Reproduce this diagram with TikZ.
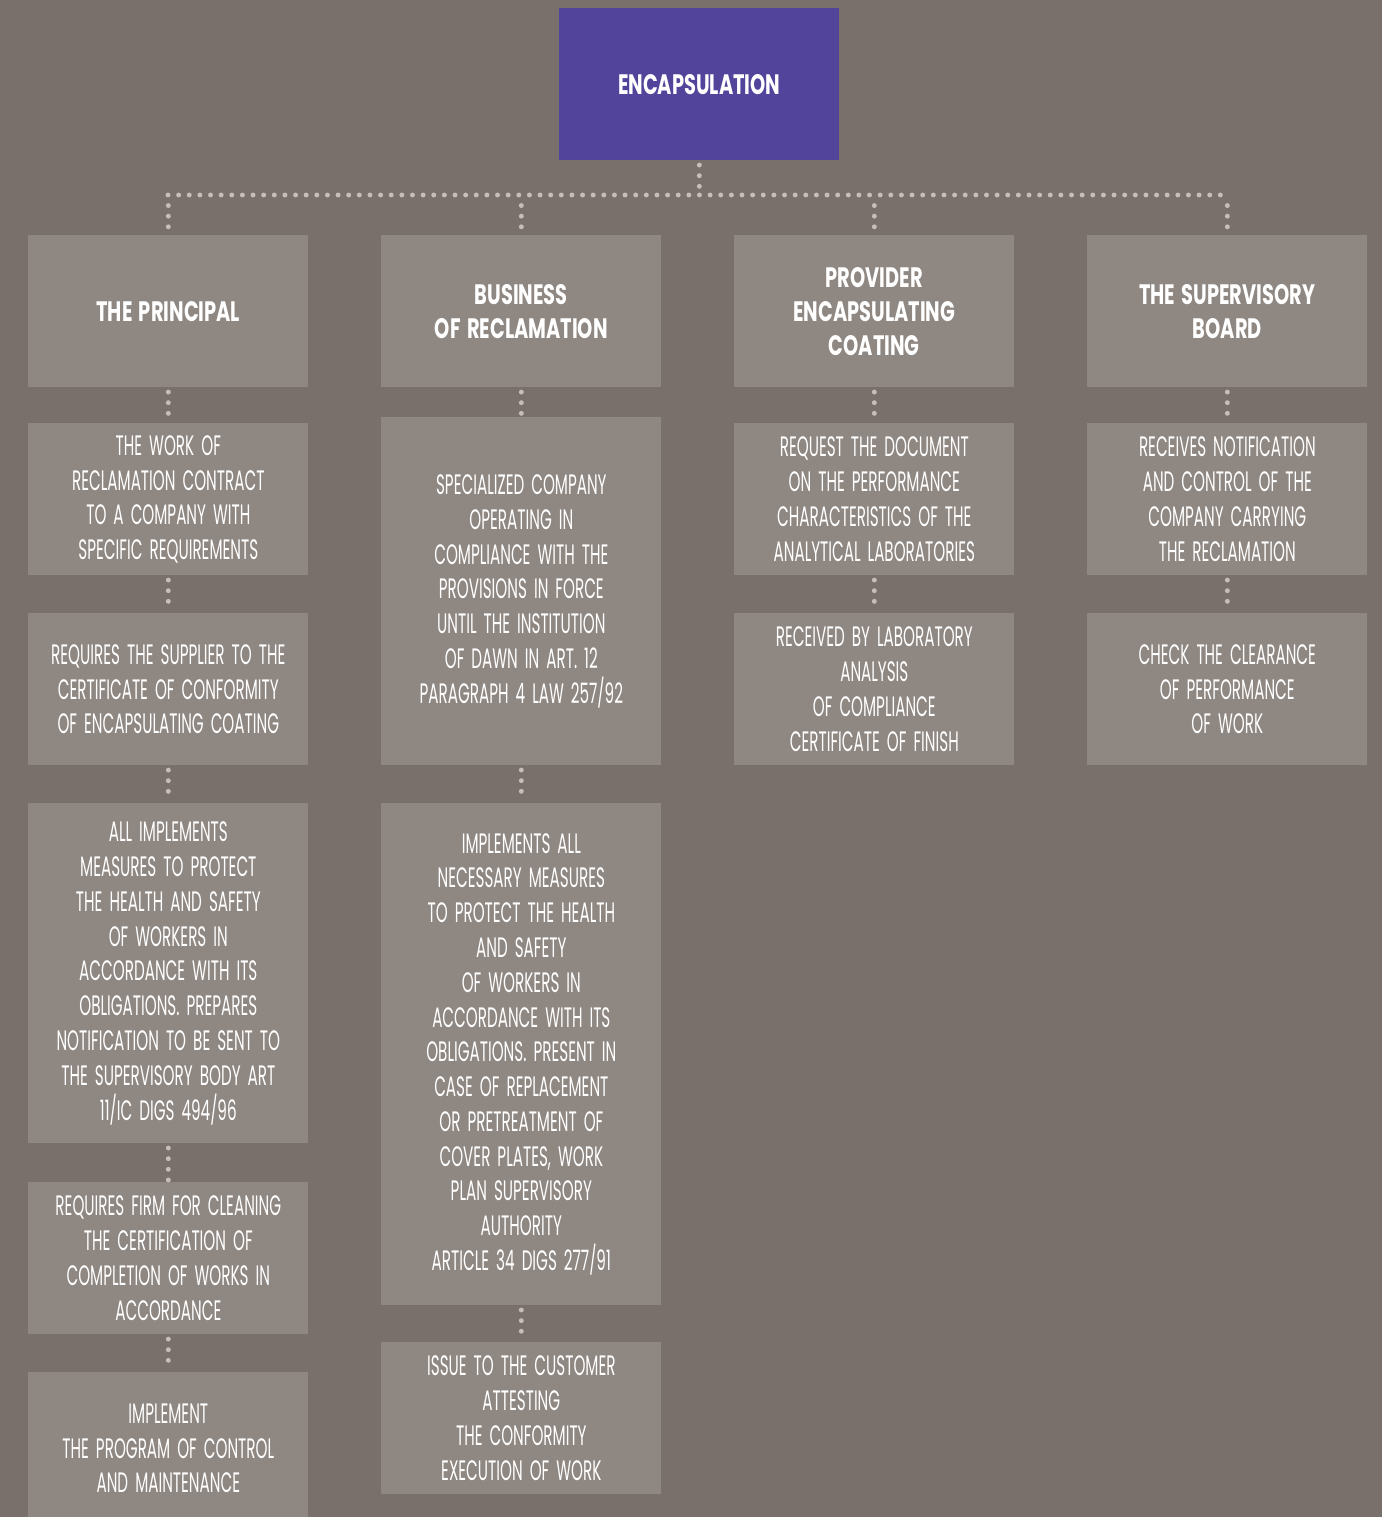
\documentclass[tikz,border=0pt]{standalone}
\usepackage{fontspec}
\setmainfont{Poppins}[FakeStretch=0.54,
  BoldFeatures={FakeStretch=0.69}]

\definecolor{bgbrown}{HTML}{7A706B}
\definecolor{cellgray}{HTML}{8F8782}
\definecolor{headviolet}{HTML}{52449A}
\definecolor{dotgray}{HTML}{C6BEBA}

\begin{document}
\begin{tikzpicture}[x=0.02cm, y=-0.02cm,
  cell/.style={fill=cellgray, text=white, anchor=north west, inner sep=0pt,
    minimum width=5.6cm, minimum height=3.04cm, text width=5.4cm, align=center,
    font=\fontsize{16}{19.8}\selectfont,
    execute at begin node={\spaceskip=4pt\relax}},
  headcell/.style={cell, font=\fontsize{16}{19.3}\selectfont\bfseries,
    execute at begin node={\spaceskip=3.6pt\relax}},
  link/.style={dotgray, line width=2.8pt, line cap=round,
    dash pattern=on 0pt off 6.05pt, shorten <=2.5pt, shorten >=1pt}]

% Background
\useasboundingbox (0,0) rectangle (1382,1517);
\fill[bgbrown] (0,0) rectangle (1382,1517);

% Top box
\node[headcell, fill=headviolet] (top) at (559,8) {ENCAPSULATION};

% Column heads
\node[headcell] (hp) at (28,235) {THE PRINCIPAL};
\node[headcell] (hb) at (381,235) {BUSINESS\\OF RECLAMATION};
\node[headcell] (hs) at (734,235) {PROVIDER\\ENCAPSULATING\\COATING};
\node[headcell] (hv) at (1087,235) {THE SUPERVISORY\\BOARD};

% Bus from the top box to the heads
\coordinate (busL) at (168,195);
\coordinate (busR) at (1228,195);
\draw[link, shorten <=0pt, shorten >=0pt] (busL) -- (busR);
\draw[link, shorten >=0pt] (top.south) -- (top.south |- busL);
\foreach \h in {hp,hb,hs,hv}
  \draw[link, shorten <=6pt] (\h.north |- busL) -- (\h.north);

% The principal
\node[cell] (p1) at (28,423) {THE WORK OF\\RECLAMATION CONTRACT\\TO A COMPANY WITH\\SPECIFIC REQUIREMENTS};
\node[cell] (p2) at (28,613) {REQUIRES THE SUPPLIER TO THE\\CERTIFICATE OF CONFORMITY\\OF ENCAPSULATING COATING};
\node[cell, minimum height=6.8cm] (p3) at (28,803) {ALL IMPLEMENTS\\MEASURES TO PROTECT\\THE HEALTH AND SAFETY\\OF WORKERS IN\\ACCORDANCE WITH ITS\\OBLIGATIONS. PREPARES\\NOTIFICATION TO BE SENT TO\\THE SUPERVISORY BODY ART\\11/IC DIGS 494/96};
\node[cell] (p4) at (28,1182) {REQUIRES FIRM FOR CLEANING\\THE CERTIFICATION OF\\COMPLETION OF WORKS IN\\ACCORDANCE};
\node[cell] (p5) at (28,1372) {IMPLEMENT\\THE PROGRAM OF CONTROL\\AND MAINTENANCE};

% Business of reclamation
\node[cell, minimum height=6.96cm] (b1) at (381,417) {SPECIALIZED COMPANY\\OPERATING IN\\COMPLIANCE WITH THE\\PROVISIONS IN FORCE\\UNTIL THE INSTITUTION\\OF DAWN IN ART. 12\\PARAGRAPH 4 LAW 257/92};
\node[cell, minimum height=10.04cm] (b2) at (381,803) {IMPLEMENTS ALL\\NECESSARY MEASURES\\TO PROTECT THE HEALTH\\AND SAFETY\\OF WORKERS IN\\ACCORDANCE WITH ITS\\OBLIGATIONS. PRESENT IN\\CASE OF REPLACEMENT\\OR PRETREATMENT OF\\COVER PLATES, WORK\\PLAN SUPERVISORY\\AUTHORITY\\ARTICLE 34 DIGS 277/91};
\node[cell] (b3) at (381,1342) {ISSUE TO THE CUSTOMER\\ATTESTING\\THE CONFORMITY\\EXECUTION OF WORK};

% Provider
\node[cell] (s1) at (734,423) {REQUEST THE DOCUMENT\\ON THE PERFORMANCE\\CHARACTERISTICS OF THE\\ANALYTICAL LABORATORIES};
\node[cell] (s2) at (734,613) {RECEIVED BY LABORATORY\\ANALYSIS\\OF COMPLIANCE\\CERTIFICATE OF FINISH};

% Supervisory board
\node[cell] (v1) at (1087,423) {RECEIVES NOTIFICATION\\AND CONTROL OF THE\\COMPANY CARRYING\\THE RECLAMATION};
\node[cell] (v2) at (1087,613) {CHECK THE CLEARANCE\\OF PERFORMANCE\\OF WORK};

% Dotted links down each column
\foreach \a/\b in {hp/p1,p1/p2,p2/p3,p3/p4,p4/p5,hb/b1,b1/b2,b2/b3,hs/s1,s1/s2,hv/v1,v1/v2}
  \draw[link] (\a.south) -- (\b.north);

\end{tikzpicture}
\end{document}
